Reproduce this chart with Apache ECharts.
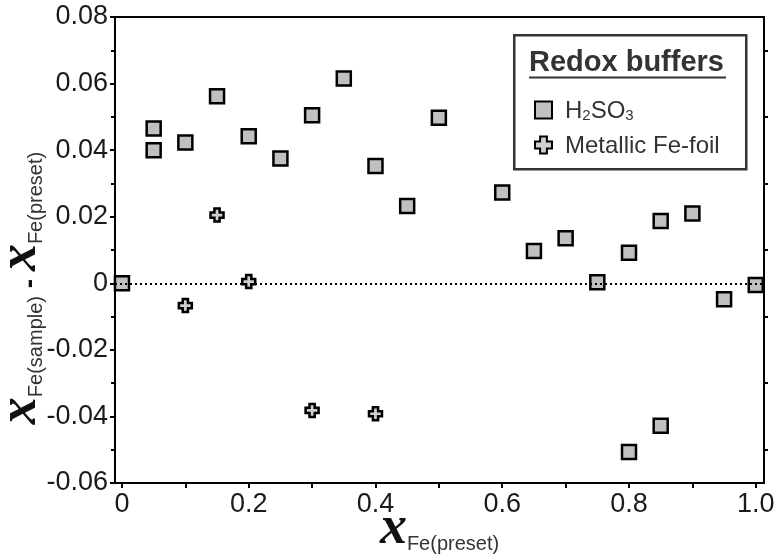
<!DOCTYPE html>
<html>
<head>
<meta charset="utf-8">
<script src="https://cdn.jsdelivr.net/npm/echarts@6/dist/echarts.min.js"></script>
<style>html,body{margin:0;padding:0;background:#fff}#c{width:780px;height:557px}</style>
</head>
<body>
<div id="c"></div>
<script>
// ---- data ----
var h2so3X = [0, 0.05, 0.05, 0.1, 0.15, 0.2, 0.25, 0.3, 0.35, 0.4, 0.45, 0.5, 0.6, 0.65, 0.7, 0.75, 0.8, 0.8, 0.85, 0.85, 0.9, 0.95, 1.0];
var h2so3Y = [0, 0.0465, 0.0400, 0.0423, 0.0562, 0.0442, 0.0375, 0.0505, 0.0615, 0.0352, 0.0232, 0.0497, 0.0273, 0.0097, 0.0135, 0.0003, 0.0092, -0.0507, 0.0187, -0.0428, 0.0210, -0.0048, -0.0005];
var feFoilX = [0.1, 0.15, 0.2, 0.3, 0.4];
var feFoilY = [-0.0067, 0.0205, 0.0005, -0.0382, -0.0392];
var xTickLabels = [0, 0.2, 0.4, 0.6, 0.8, 1.0];
var xTickMarks = [0, 0.1, 0.2, 0.3, 0.4, 0.5, 0.6, 0.7, 0.8, 0.9, 1.0];
var seriesNames = ['H2SO3', 'Metallic Fe-foil'];

function pairs(xs, ys){ return xs.map(function(x,i){ return [x, ys[i]]; }); }

var font = '"Liberation Sans", Arial, sans-serif';
var serif = '"Liberation Serif", "Times New Roman", serif';
var crossPath = 'path://M3,0 L7,0 L7,3 L10,3 L10,7 L7,7 L7,10 L3,10 L3,7 L0,7 L0,3 L3,3 Z';

var nameRich = {
  x: {fontFamily: serif, fontStyle: 'italic', fontWeight: 'bold', fontSize: 54, color: '#111', verticalAlign: 'bottom', lineHeight: 40},
  s: {fontFamily: font, fontSize: 20, color: '#333', verticalAlign: 'bottom', lineHeight: 40, padding: [0, 0, 2, 0]},
  d: {fontFamily: font, fontSize: 28, fontWeight: 'bold', color: '#111', verticalAlign: 'bottom', lineHeight: 40, padding: [0, 0, 4, 0]}
};

var chart = echarts.init(document.getElementById('c'), null, {renderer: 'canvas'});
chart.setOption({
  animation: false,
  backgroundColor: '#fff',
  grid: {left: 115, right: 16, top: 17, bottom: 74, containLabel: false, outerBoundsMode: 'none'},
  xAxis: [{
    type: 'value', min: -0.011, max: 1.013,
    axisLine: {show: true, onZero: false, lineStyle: {color: '#000', width: 2}},
    axisTick: {show: true, customValues: xTickMarks, length: 5, lineStyle: {color: '#000', width: 2}},
    axisLabel: {customValues: xTickLabels, color: '#1a1a1a', fontSize: 27, fontFamily: font, margin: 8,
      formatter: function(v){ return Math.abs(v) < 1e-9 ? '0' : (Math.abs(v-1) < 1e-9 ? '1.0' : String(+v.toFixed(1))); }},
    splitLine: {show: false},
    name: '{x|x}{s|Fe(preset)}', nameLocation: 'middle', nameGap: 33, nameMoveOverlap: false,
    nameTextStyle: {rich: nameRich}
  }, {
    type: 'value', position: 'top', min: -0.011, max: 1.013,
    axisLine: {show: true, onZero: false, lineStyle: {color: '#000', width: 2}},
    axisTick: {show: false}, axisLabel: {show: false}, splitLine: {show: false}
  }],
  yAxis: [{
    type: 'value', min: -0.06, max: 0.08, interval: 0.02,
    axisLine: {show: true, onZero: false, lineStyle: {color: '#000', width: 2}},
    axisTick: {show: true, length: 5, lineStyle: {color: '#000', width: 2}},
    minorTick: {show: true, splitNumber: 2, length: 4, lineStyle: {color: '#000', width: 2}},
    axisLabel: {color: '#1a1a1a', fontSize: 27, fontFamily: font, margin: 7,
      formatter: function(v){ return Math.abs(v) < 1e-9 ? '0' : v.toFixed(2); }},
    splitLine: {show: false},
    name: '{x|x}{s|Fe(sample)}{d| - }{x|x}{s|Fe(preset)}', nameLocation: 'middle', nameGap: 67, nameRotate: 90, nameMoveOverlap: false,
    nameTextStyle: {rich: nameRich, padding: [0, 76, 0, 0]}
  }, {
    type: 'value', position: 'right', min: -0.06, max: 0.08, interval: 0.02,
    axisLine: {show: true, onZero: false, lineStyle: {color: '#000', width: 2}},
    axisTick: {show: false},
    minorTick: {show: true, splitNumber: 2, length: 4, lineStyle: {color: '#000', width: 2}},
    axisLabel: {show: false}, splitLine: {show: false}
  }],
  legend: {
    orient: 'vertical', left: 529, top: 94, itemGap: 11, itemWidth: 17, itemHeight: 17,
    data: seriesNames,
    textStyle: {fontFamily: font, fontSize: 24, color: '#333', padding: [0,0,0,8],
      rich: {
        n: {fontFamily: font, fontSize: 24, color: '#333', verticalAlign: 'bottom', lineHeight: 26},
        sub: {fontFamily: font, fontSize: 15, color: '#333', verticalAlign: 'bottom', lineHeight: 19}
      }},
    formatter: function(name){
      if (name === 'H2SO3') return '{n|H}{sub|2}{n|SO}{sub|3}';
      return '{n|' + name + '}';
    }
  },
  graphic: [
    {type: 'rect', left: 513, top: 34, z: 0, shape: {width: 232, height: 134},
      style: {fill: '#fff', stroke: '#333', lineWidth: 2.5}},
    {type: 'text', x: 529, y: 63, z: 10,
      style: {text: 'Redox buffers', font: 'bold 29px ' + font, fill: '#333', verticalAlign: 'middle'}},
    {type: 'line', z: 10, shape: {x1: 529, y1: 77.5, x2: 726, y2: 77.5}, style: {stroke: '#333', lineWidth: 2}}
  ],
  series: [{
    type: 'scatter', name: '_zero', data: [], z: 1, silent: true,
    markLine: {silent: true, symbol: ['none','none'], label: {show: false},
      lineStyle: {type: [2, 3], color: '#000', width: 2}, data: [{yAxis: 0}]}
  }, {
    type: 'scatter', name: seriesNames[0], data: pairs(h2so3X, h2so3Y), z: 3,
    symbol: 'rect', symbolSize: 14,
    itemStyle: {color: '#c0c0c0', borderColor: '#000', borderWidth: 2.5, opacity: 1}
  }, {
    type: 'scatter', name: seriesNames[1], data: pairs(feFoilX, feFoilY), z: 4,
    symbol: crossPath, symbolSize: 13,
    itemStyle: {color: '#cfcfcf', borderColor: '#000', borderWidth: 2.5, opacity: 1}
  }]
});
</script>
</body>
</html>
